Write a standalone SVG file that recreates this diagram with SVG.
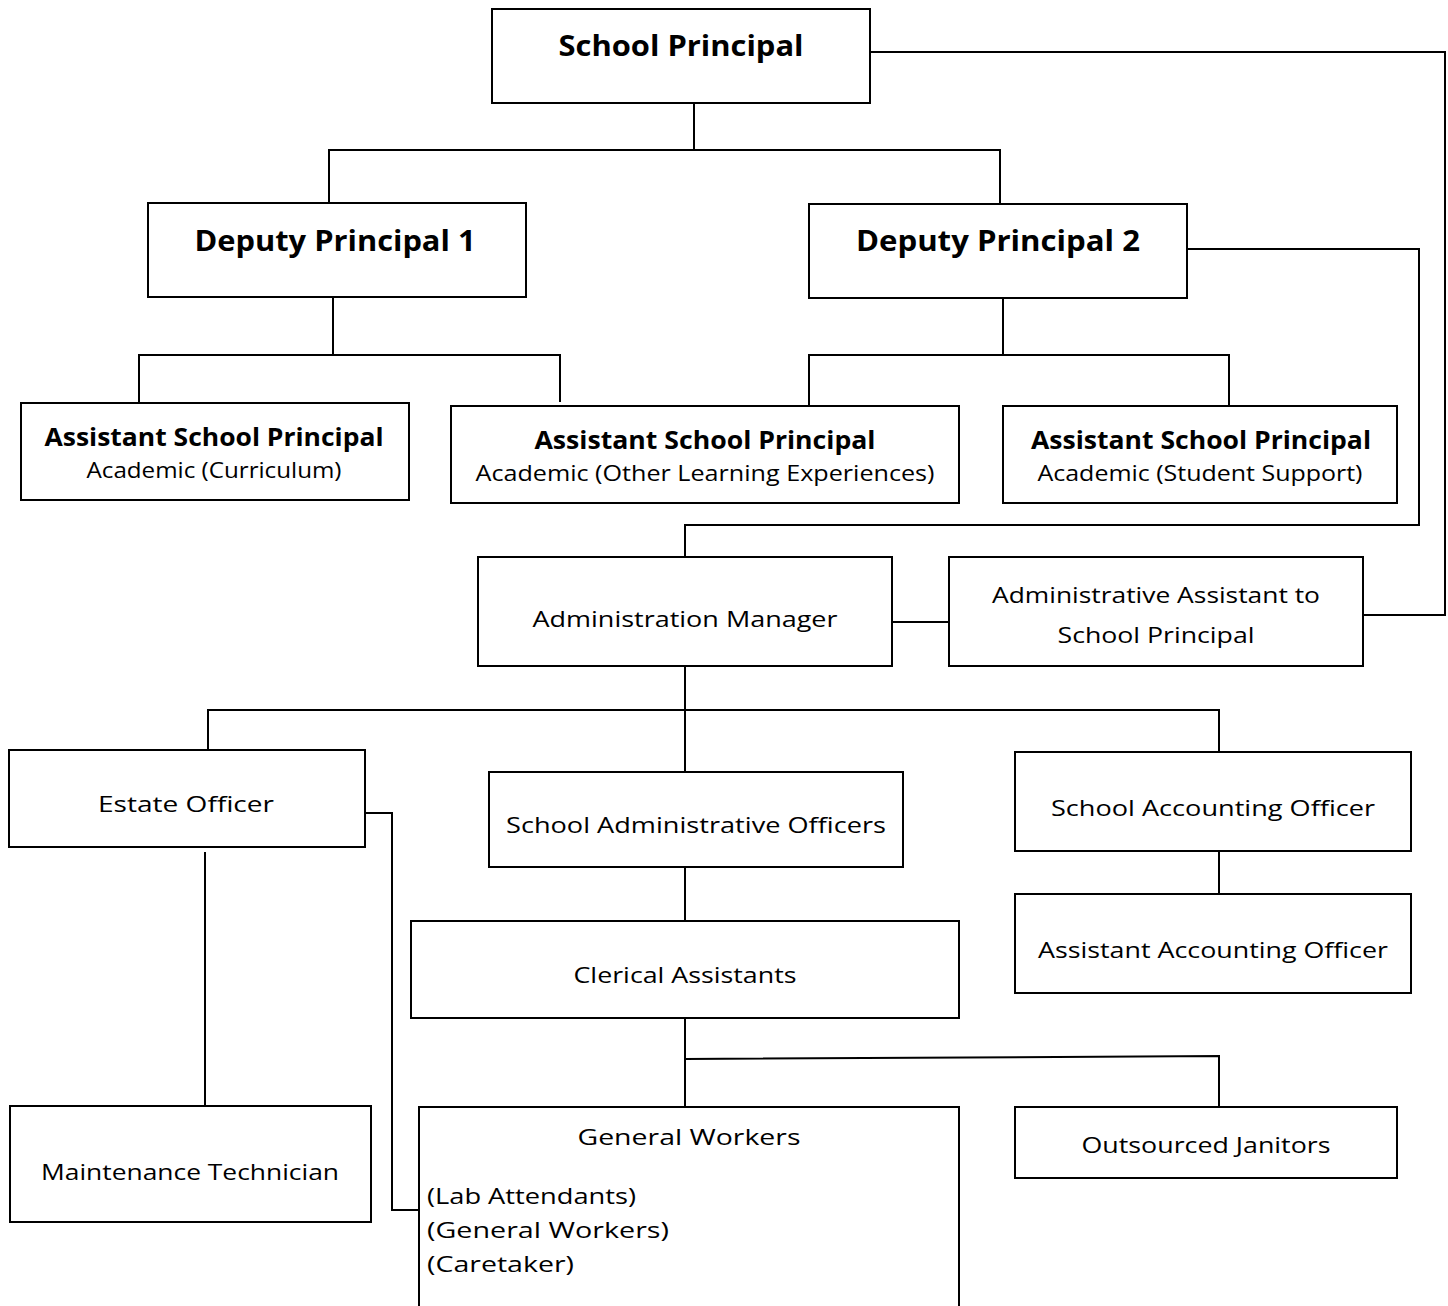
<svg xmlns="http://www.w3.org/2000/svg" width="1448" height="1306" viewBox="0 0 1448 1306">
<style>
rect{fill:#fff;stroke:#000;stroke-width:2}
.c{fill:none;stroke:#000;stroke-width:2}
text{font-family:"Open Sans","DejaVu Sans",sans-serif;fill:#000}
.b{font-weight:700;font-size:28px;text-anchor:middle}
.bs{font-weight:700;font-size:25px;text-anchor:middle}
.r{font-size:22px;text-anchor:middle}
.l{font-size:22px}
</style>
<rect x="0" y="0" width="1448" height="1306" style="stroke:none"/>
<g id="connectors">
<path class="c" d="M870 52H1445V615H1363"/>
<path class="c" d="M1187 249H1419V525H685V557"/>
<path class="c" d="M694 103V150M329 203V150H1000V204"/>
<path class="c" d="M333 297V355M139 403V355H560V402"/>
<path class="c" d="M1003 298V355M809 405V355H1229V405"/>
<path class="c" d="M892 622H949"/>
<path class="c" d="M685 666V772M208 750V710H1219V752"/>
<path class="c" d="M365 813H392V1210H419"/>
<path class="c" d="M205 852V1106"/>
<path class="c" d="M685 867V921"/>
<path class="c" d="M1219 851V894"/>
<path class="c" d="M685 1018V1107M685 1059L1219 1056V1107"/>
</g>
<g id="school-principal"><rect x="492" y="9" width="378" height="94"/><text class="b" x="681" y="56" textLength="245" lengthAdjust="spacingAndGlyphs">School Principal</text></g>
<g id="deputy-principal-1"><rect x="148" y="203" width="378" height="94"/><text class="b" x="335" y="251" textLength="281" lengthAdjust="spacingAndGlyphs">Deputy Principal 1</text></g>
<g id="deputy-principal-2"><rect x="809" y="204" width="378" height="94"/><text class="b" x="998" y="251" textLength="284" lengthAdjust="spacingAndGlyphs">Deputy Principal 2</text></g>
<g id="asp-curriculum"><rect x="21" y="403" width="388" height="97"/><text class="bs" x="214" y="446" textLength="339" lengthAdjust="spacingAndGlyphs">Assistant School Principal</text><text class="r" x="214" y="478" textLength="255" lengthAdjust="spacingAndGlyphs">Academic (Curriculum)</text></g>
<g id="asp-ole"><rect x="451" y="406" width="508" height="97"/><text class="bs" x="705" y="449" textLength="341" lengthAdjust="spacingAndGlyphs">Assistant School Principal</text><text class="r" x="705" y="481" textLength="459" lengthAdjust="spacingAndGlyphs">Academic (Other Learning Experiences)</text></g>
<g id="asp-student-support"><rect x="1003" y="406" width="394" height="97"/><text class="bs" x="1201" y="449" textLength="340" lengthAdjust="spacingAndGlyphs">Assistant School Principal</text><text class="r" x="1200" y="481" textLength="325" lengthAdjust="spacingAndGlyphs">Academic (Student Support)</text></g>
<g id="administration-manager"><rect x="478" y="557" width="414" height="109"/><text class="r" x="685" y="627" textLength="305" lengthAdjust="spacingAndGlyphs">Administration Manager</text></g>
<g id="administrative-assistant"><rect x="949" y="557" width="414" height="109"/><text class="r" x="1156" y="603" textLength="328" lengthAdjust="spacingAndGlyphs">Administrative Assistant to</text><text class="r" x="1156" y="643" textLength="197" lengthAdjust="spacingAndGlyphs">School Principal</text></g>
<g id="estate-officer"><rect x="9" y="750" width="356" height="97"/><text class="r" x="186" y="812" textLength="176" lengthAdjust="spacingAndGlyphs">Estate Officer</text></g>
<g id="school-administrative-officers"><rect x="489" y="772" width="414" height="95"/><text class="r" x="696" y="833" textLength="380" lengthAdjust="spacingAndGlyphs">School Administrative Officers</text></g>
<g id="school-accounting-officer"><rect x="1015" y="752" width="396" height="99"/><text class="r" x="1213" y="816" textLength="324" lengthAdjust="spacingAndGlyphs">School Accounting Officer</text></g>
<g id="assistant-accounting-officer"><rect x="1015" y="894" width="396" height="99"/><text class="r" x="1213" y="958" textLength="350" lengthAdjust="spacingAndGlyphs">Assistant Accounting Officer</text></g>
<g id="clerical-assistants"><rect x="411" y="921" width="548" height="97"/><text class="r" x="685" y="983" textLength="223" lengthAdjust="spacingAndGlyphs">Clerical Assistants</text></g>
<g id="maintenance-technician"><rect x="10" y="1106" width="361" height="116"/><text class="r" x="190" y="1180" textLength="298" lengthAdjust="spacingAndGlyphs">Maintenance Technician</text></g>
<g id="general-workers"><rect x="419" y="1107" width="540" height="230"/><text class="r" x="689" y="1145" textLength="223" lengthAdjust="spacingAndGlyphs">General Workers</text><text class="l" x="427" y="1204" textLength="209" lengthAdjust="spacingAndGlyphs">(Lab Attendants)</text><text class="l" x="427" y="1238" textLength="242" lengthAdjust="spacingAndGlyphs">(General Workers)</text><text class="l" x="427" y="1272" textLength="147" lengthAdjust="spacingAndGlyphs">(Caretaker)</text></g>
<g id="outsourced-janitors"><rect x="1015" y="1107" width="382" height="71"/><text class="r" x="1206" y="1153" textLength="249" lengthAdjust="spacingAndGlyphs">Outsourced Janitors</text></g>
</svg>
